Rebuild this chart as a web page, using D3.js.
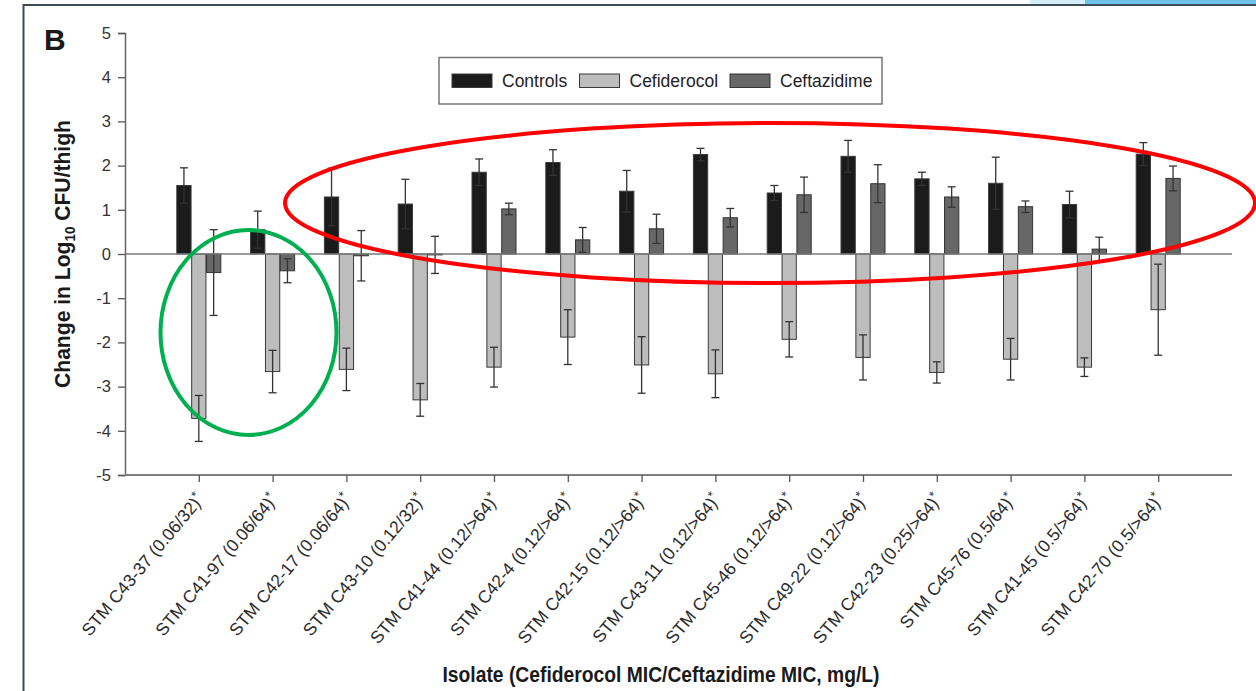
<!DOCTYPE html>
<html>
<head>
<meta charset="utf-8">
<script src="https://cdn.jsdelivr.net/npm/d3@7/dist/d3.min.js"></script>
<style>
  html, body { margin: 0; padding: 0; background: #fff; }
  svg { display: block; }
  text { font-family: "Liberation Sans", Arial, Helvetica, sans-serif; }
</style>
</head>
<body>
<svg id="chart" width="1256" height="691"></svg>
<script>
// ---------------- data ----------------
const isolates = [
  "STM C43-37 (0.06/32)*", "STM C41-97 (0.06/64)*", "STM C42-17 (0.06/64)*",
  "STM C43-10 (0.12/32)*", "STM C41-44 (0.12/>64)*", "STM C42-4 (0.12/>64)*",
  "STM C42-15 (0.12/>64)*", "STM C43-11 (0.12/>64)*", "STM C45-46 (0.12/>64)*",
  "STM C49-22 (0.12/>64)*", "STM C42-23 (0.25/>64)*", "STM C45-76 (0.5/64)*",
  "STM C41-45 (0.5/>64)*", "STM C42-70 (0.5/>64)*"
];
const seriesNames = ["Controls", "Cefiderocol", "Ceftazidime"];
const controls     = [1.55, 0.55, 1.29, 1.13, 1.85, 2.07, 1.42, 2.25, 1.38, 2.21, 1.70, 1.60, 1.12, 2.26];
const controlsErr  = [0.40, 0.42, 0.65, 0.56, 0.30, 0.29, 0.47, 0.14, 0.17, 0.36, 0.15, 0.59, 0.30, 0.26];
const cefiderocol  = [-3.72, -2.66, -2.61, -3.30, -2.56, -1.88, -2.51, -2.71, -1.93, -2.34, -2.68, -2.38, -2.56, -1.26];
const cefidErr     = [0.52, 0.48, 0.48, 0.37, 0.45, 0.62, 0.64, 0.54, 0.40, 0.51, 0.24, 0.47, 0.21, 1.03];
const ceftazidime  = [-0.42, -0.38, -0.04, -0.02, 1.02, 0.32, 0.57, 0.82, 1.34, 1.59, 1.29, 1.07, 0.11, 1.71];
const ceftazErr    = [0.97, 0.27, 0.57, 0.42, 0.13, 0.28, 0.33, 0.21, 0.40, 0.43, 0.23, 0.13, 0.27, 0.28];
const yTicks = [-5, -4, -3, -2, -1, 0, 1, 2, 3, 4, 5];

// ---------------- setup ----------------
const svg = d3.select("#chart");
const fills   = { "Controls": "#1b1b1b", "Cefiderocol": "#bdbdbd", "Ceftazidime": "#676767" };
const strokes = { "Controls": "#3a3a3a", "Cefiderocol": "#3a3a3a", "Ceftazidime": "#333333" };

const plotL = 125, plotR = 1232, plotT = 33, plotB = 475;
const x = d3.scaleLinear().domain([0, isolates.length + 1]).range([plotL, plotR]);
const y = d3.scaleLinear().domain([-5, 5]).range([plotB, plotT]);
const xInner = d3.scaleBand().domain(seriesNames).range([-22, 22]).paddingInner(0.04);

const seriesVals = { "Controls": controls, "Cefiderocol": cefiderocol, "Ceftazidime": ceftazidime };
const seriesErr  = { "Controls": controlsErr, "Cefiderocol": cefidErr, "Ceftazidime": ceftazErr };

// page frame (screenshot border)
svg.append("rect").attr("x", 1085).attr("y", 0).attr("width", 171).attr("height", 5).attr("fill", "#6ec3e8");
svg.append("rect").attr("x", 1030).attr("y", 0).attr("width", 55).attr("height", 5).attr("fill", "#d6eef9");
svg.append("line").attr("x1", 23).attr("x2", 1256).attr("y1", 5).attr("y2", 5)
  .attr("stroke", "#3c4b55").attr("stroke-width", 2);
svg.append("line").attr("x1", 23.5).attr("x2", 23.5).attr("y1", 4).attr("y2", 691)
  .attr("stroke", "#3c4b55").attr("stroke-width", 2);

// panel letter
svg.append("text").attr("x", 44).attr("y", 50).attr("font-size", 30).attr("font-weight", "bold")
  .attr("fill", "#1a1a1a").text("B");

// ---------------- bars ----------------
const groups = svg.append("g").selectAll("g").data(isolates).join("g")
  .attr("transform", (d, i) => `translate(${x(i + 1)},0)`);

seriesNames.forEach(s => {
  groups.append("rect")
    .attr("x", xInner(s))
    .attr("width", xInner.bandwidth())
    .attr("y", (d, i) => y(Math.max(0, seriesVals[s][i])))
    .attr("height", (d, i) => Math.abs(y(seriesVals[s][i]) - y(0)))
    .attr("fill", fills[s]).attr("stroke", strokes[s]).attr("stroke-width", 1);
});

// zero line
svg.append("line").attr("x1", plotL).attr("x2", plotR).attr("y1", y(0)).attr("y2", y(0))
  .attr("stroke", "#7a7a7a").attr("stroke-width", 1.4);

// error bars
seriesNames.forEach(s => {
  const cx = xInner(s) + xInner.bandwidth() / 2;
  const eb = groups.append("g").attr("stroke", "#333").attr("stroke-width", 1.3).attr("fill", "none");
  eb.append("line").attr("x1", cx).attr("x2", cx)
    .attr("y1", (d, i) => y(seriesVals[s][i] + seriesErr[s][i]))
    .attr("y2", (d, i) => y(seriesVals[s][i] - seriesErr[s][i]));
  [1, -1].forEach(sg => {
    eb.append("line").attr("x1", cx - 4).attr("x2", cx + 4)
      .attr("y1", (d, i) => y(seriesVals[s][i] + sg * seriesErr[s][i]))
      .attr("y2", (d, i) => y(seriesVals[s][i] + sg * seriesErr[s][i]));
  });
});

// ---------------- axes ----------------
const yAxis = d3.axisLeft(y).tickValues(yTicks).tickSize(7).tickPadding(7).tickFormat(d => String(d));
const gy = svg.append("g").attr("transform", `translate(${plotL},0)`).call(yAxis);
gy.select(".domain").attr("stroke", "#666").attr("stroke-width", 1.5);
gy.selectAll(".tick line").attr("stroke", "#555").attr("stroke-width", 1.3);
gy.selectAll(".tick text").attr("font-size", 16.5).attr("fill", "#333")
  .attr("font-family", "Liberation Sans, Arial, sans-serif");

const xAxis = d3.axisBottom(x).tickValues(d3.range(1, isolates.length + 1)).tickSize(7).tickFormat("");
const gx = svg.append("g").attr("transform", `translate(0,${plotB})`).call(xAxis);
gx.select(".domain").attr("stroke", "#808080").attr("stroke-width", 2).attr("d", `M${plotL},0H${plotR}`);
gx.selectAll(".tick line").attr("stroke", "#555").attr("stroke-width", 1.3);

// rotated tick labels
const lab = svg.append("g").selectAll("text").data(isolates).join("text")
  .attr("transform", (d, i) => `translate(${x(i + 1) + 6},500) rotate(-50)`)
  .attr("text-anchor", "end").attr("font-size", 17.5).attr("fill", "#2a2a2a");
lab.append("tspan").text(d => d.replace(/\*$/, ""));
lab.append("tspan").attr("font-size", 13).attr("dy", -6).text(d => d.endsWith("*") ? "*" : "");

// axis titles
svg.append("text").attr("x", 661).attr("y", 682).attr("text-anchor", "middle")
  .attr("font-size", 22).attr("font-weight", "bold").attr("fill", "#1a1a1a")
  .attr("textLength", 437).attr("lengthAdjust", "spacingAndGlyphs")
  .text("Isolate (Cefiderocol MIC/Ceftazidime MIC, mg/L)");

const yt = svg.append("g").attr("transform", "translate(70,254) rotate(-90)");
const ytText = yt.append("text").attr("text-anchor", "middle").attr("font-size", 22)
  .attr("font-weight", "bold").attr("fill", "#1a1a1a");
ytText.append("tspan").text("Change in Log");
ytText.append("tspan").attr("font-size", 14).attr("dy", 5).text("10");
ytText.append("tspan").attr("dy", -5).text(" CFU/thigh");
const bb = ytText.node().getBBox();
ytText.attr("transform", `scale(${268 / bb.width},1)`);

// ---------------- legend ----------------
const lg = svg.append("g");
lg.append("rect").attr("x", 439).attr("y", 57.5).attr("width", 443).attr("height", 46.5)
  .attr("fill", "#fff").attr("stroke", "#777").attr("stroke-width", 1.5);
const legendX = { "Controls": 452, "Cefiderocol": 579.5, "Ceftazidime": 730 };
seriesNames.forEach(s => {
  lg.append("rect").attr("x", legendX[s]).attr("y", 74).attr("width", 40).attr("height", 13.5)
    .attr("fill", fills[s]).attr("stroke", strokes[s]).attr("stroke-width", 1);
  lg.append("text").attr("x", legendX[s] + 50).attr("y", 87).attr("font-size", 17.5)
    .attr("fill", "#222").text(s);
});

// ---------------- annotations ----------------
svg.append("ellipse").attr("cx", 770).attr("cy", 203).attr("rx", 485).attr("ry", 80)
  .attr("fill", "none").attr("stroke", "#ff0000").attr("stroke-width", 4);
svg.append("ellipse").attr("cx", 248.5).attr("cy", 332.5).attr("rx", 88).attr("ry", 102.5)
  .attr("fill", "none").attr("stroke", "#00b050").attr("stroke-width", 4);
</script>
</body>
</html>
